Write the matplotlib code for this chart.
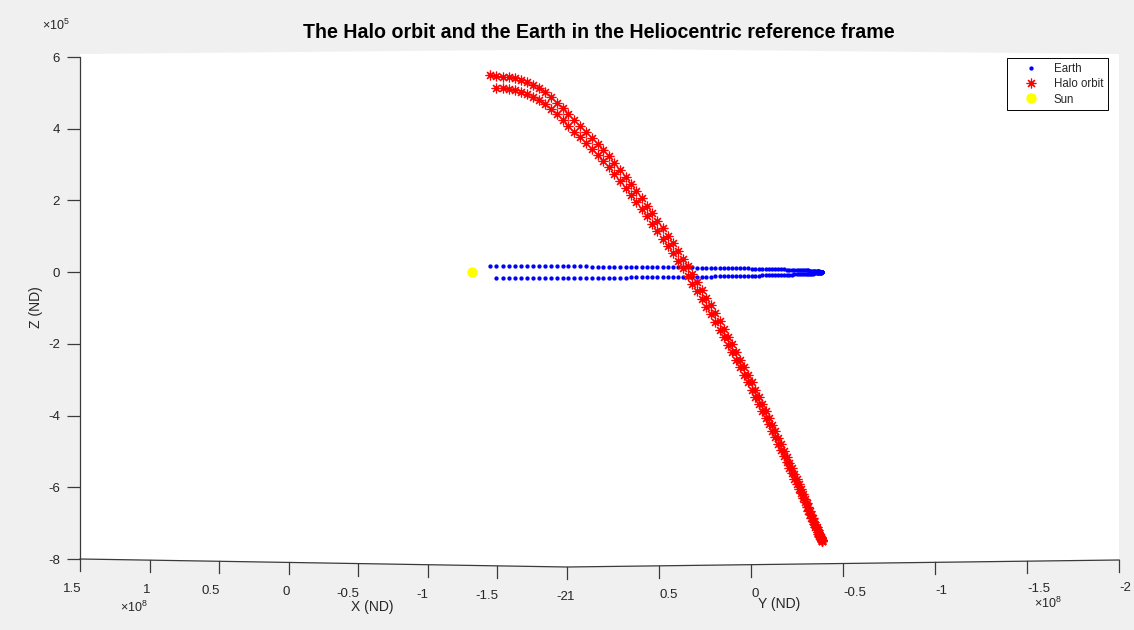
import numpy as np
import matplotlib
matplotlib.use("Agg")
import matplotlib.pyplot as plt
from matplotlib.lines import Line2D
from matplotlib.patches import Polygon

# ---------------- data ----------------
# Horizontal position in the view: projected distance from the Sun (x 1e8, ND).
# The halo orbit tracks the Earth so closely that both share these positions.
# far side of the half orbit (upper strand), then near side (lower strand)
far_h = [0.078, 0.105, 0.131, 0.157, 0.183, 0.209, 0.235, 0.260, 0.286, 0.312,
         0.338, 0.363, 0.388, 0.413, 0.439, 0.464, 0.488, 0.513, 0.538, 0.562,
         0.586, 0.610, 0.634, 0.658, 0.681, 0.704, 0.727, 0.750, 0.773, 0.795,
         0.817, 0.839, 0.860, 0.882, 0.903, 0.924, 0.944, 0.964, 0.984, 1.004,
         1.023, 1.042, 1.061, 1.079, 1.097, 1.115, 1.132, 1.149, 1.166, 1.182,
         1.198, 1.214, 1.229, 1.244, 1.258, 1.272, 1.286, 1.299, 1.312, 1.324,
         1.337, 1.348, 1.359, 1.370, 1.381, 1.391, 1.400, 1.410, 1.418, 1.427,
         1.434, 1.442, 1.449, 1.455, 1.462, 1.467, 1.472, 1.477, 1.482, 1.485,
         1.489, 1.492, 1.494, 1.496, 1.498, 1.499, 1.500, 1.500]
near_h = [1.500, 1.499, 1.498, 1.496, 1.494, 1.492, 1.489, 1.485, 1.482, 1.477,
          1.472, 1.467, 1.462, 1.455, 1.449, 1.442, 1.434, 1.427, 1.418, 1.410,
          1.400, 1.391, 1.381, 1.370, 1.359, 1.348, 1.337, 1.324, 1.312, 1.299,
          1.286, 1.272, 1.258, 1.244, 1.229, 1.214, 1.198, 1.182, 1.166, 1.149,
          1.132, 1.115, 1.097, 1.079, 1.061, 1.042, 1.023, 1.004, 0.984, 0.964,
          0.944, 0.924, 0.903, 0.882, 0.860, 0.839, 0.817, 0.795, 0.773, 0.750,
          0.727, 0.704, 0.681, 0.658, 0.634, 0.610, 0.586, 0.562, 0.538, 0.513,
          0.488, 0.464, 0.439, 0.413, 0.388, 0.363, 0.338, 0.312, 0.286, 0.260,
          0.235, 0.209, 0.183, 0.157, 0.131, 0.105]

# Z (x 1e5, ND) as seen in the view
earth_far_z = [0.167, 0.167, 0.166, 0.166, 0.166, 0.165, 0.165, 0.164, 0.164, 0.163,
               0.163, 0.162, 0.161, 0.161, 0.160, 0.159, 0.158, 0.157, 0.156, 0.155,
               0.154, 0.153, 0.151, 0.150, 0.149, 0.147, 0.146, 0.145, 0.143, 0.142,
               0.140, 0.138, 0.137, 0.135, 0.133, 0.132, 0.130, 0.128, 0.126, 0.124,
               0.122, 0.120, 0.118, 0.116, 0.114, 0.112, 0.110, 0.107, 0.105, 0.103,
               0.101, 0.098, 0.096, 0.093, 0.091, 0.088, 0.086, 0.084, 0.081, 0.078,
               0.076, 0.073, 0.071, 0.068, 0.065, 0.063, 0.060, 0.057, 0.054, 0.052,
               0.049, 0.046, 0.043, 0.040, 0.038, 0.035, 0.032, 0.029, 0.026, 0.023,
               0.020, 0.017, 0.015, 0.012, 0.009, 0.006, 0.003, 0.000]
earth_near_z = [-0.003, -0.006, -0.009, -0.012, -0.015, -0.017, -0.020, -0.023, -0.026, -0.029,
                -0.032, -0.035, -0.038, -0.040, -0.043, -0.046, -0.049, -0.052, -0.054, -0.057,
                -0.060, -0.063, -0.065, -0.068, -0.071, -0.073, -0.076, -0.078, -0.081, -0.084,
                -0.086, -0.088, -0.091, -0.093, -0.096, -0.098, -0.101, -0.103, -0.105, -0.107,
                -0.110, -0.112, -0.114, -0.116, -0.118, -0.120, -0.122, -0.124, -0.126, -0.128,
                -0.130, -0.132, -0.133, -0.135, -0.137, -0.138, -0.140, -0.142, -0.143, -0.145,
                -0.146, -0.147, -0.149, -0.150, -0.151, -0.153, -0.154, -0.155, -0.156, -0.157,
                -0.158, -0.159, -0.160, -0.161, -0.161, -0.162, -0.163, -0.163, -0.164, -0.164,
                -0.165, -0.165, -0.166, -0.166, -0.166, -0.167]
halo_far_z = [5.509, 5.481, 5.455, 5.433, 5.404, 5.367, 5.305, 5.226, 5.131, 5.019,
              4.882, 4.728, 4.568, 4.403, 4.242, 4.076, 3.914, 3.747, 3.575, 3.409,
              3.228, 3.043, 2.852, 2.659, 2.461, 2.259, 2.055, 1.848, 1.637, 1.424,
              1.218, 1.009, 0.799, 0.587, 0.373, 0.159, -0.058, -0.275, -0.493, -0.711,
              -0.930, -1.148, -1.366, -1.584, -1.800, -2.016, -2.230, -2.444, -2.655, -2.865,
              -3.072, -3.277, -3.479, -3.679, -3.875, -4.069, -4.258, -4.443, -4.626, -4.804,
              -4.978, -5.147, -5.311, -5.471, -5.627, -5.776, -5.920, -6.059, -6.193, -6.319,
              -6.441, -6.556, -6.666, -6.769, -6.865, -6.955, -7.038, -7.115, -7.185, -7.249,
              -7.305, -7.354, -7.395, -7.431, -7.459, -7.480, -7.493, -7.500]
halo_near_z = [-7.499, -7.492, -7.477, -7.455, -7.425, -7.388, -7.345, -7.295, -7.237, -7.173,
               -7.102, -7.025, -6.941, -6.849, -6.752, -6.648, -6.539, -6.423, -6.301, -6.173,
               -6.040, -5.902, -5.757, -5.607, -5.453, -5.293, -5.130, -4.960, -4.788, -4.611,
               -4.430, -4.245, -4.057, -3.865, -3.671, -3.473, -3.274, -3.071, -2.865, -2.658,
               -2.450, -2.240, -2.028, -1.816, -1.602, -1.388, -1.174, -0.959, -0.745, -0.531,
               -0.318, -0.105, 0.107, 0.317, 0.525, 0.733, 0.938, 1.140, 1.351, 1.558,
               1.763, 1.965, 2.163, 2.359, 2.550, 2.737, 2.920, 3.099, 3.263, 3.433,
               3.598, 3.758, 3.922, 4.081, 4.246, 4.404, 4.556, 4.693, 4.803, 4.898,
               4.975, 5.037, 5.072, 5.101, 5.123, 5.147]
sun_h = [0.0]
sun_z = [0.0]

z_ticks = [-8, -6, -4, -2, 0, 2, 4, 6]
x_tick_labels = ['1.5', '1', '0.5', '0', '-0.5', '-1', '-1.5', '-2']
y_tick_labels = ['1', '0.5', '0', '-0.5', '-1', '-1.5', '-2']

TITLE = 'The Halo orbit and the Earth in the Heliocentric reference frame'

# ---------------- styling ----------------
plt.rcParams['font.family'] = ['Liberation Sans', 'DejaVu Sans']
plt.rcParams['axes.unicode_minus'] = False
plt.rcParams['mathtext.fontset'] = 'custom'
plt.rcParams['mathtext.rm'] = 'Liberation Sans'
plt.rcParams['mathtext.it'] = 'Liberation Sans:italic'
plt.rcParams['mathtext.bf'] = 'Liberation Sans:bold'

W, H = 1134, 630
TXT = '#262626'
AXC = '#3a3a3a'
fig = plt.figure(figsize=(W / 100, H / 100), dpi=100, facecolor='#f0f0f0')


def fx(x):
    return x / W


def fy(y):
    return 1 - y / H


# white back planes of the 3-D box
box = Polygon([(fx(80), fy(54)), (fx(623), fy(49)), (fx(1119), fy(54)),
               (fx(1119), fy(560)), (fx(567), fy(567)), (fx(80), fy(559))],
              closed=True, transform=fig.transFigure, facecolor='white',
              edgecolor='none', zorder=-5)
fig.add_artist(box)

ax = fig.add_axes([fx(80), fy(559), (1119 - 80) / W, (559 - 57) / H])
ax.set_facecolor('none')
ax.set_xlim(-1.680, 2.773)
ax.set_ylim(-8, 6)
for s in ['top', 'right', 'bottom']:
    ax.spines[s].set_visible(False)
ax.spines['left'].set_color(AXC)
ax.spines['left'].set_linewidth(0.9)
ax.set_xticks([])
ax.set_yticks(z_ticks)
ax.set_yticklabels([str(t) for t in z_ticks])
ax.tick_params(axis='y', direction='out', length=9.5, width=0.9, color=AXC,
               labelcolor=TXT, labelsize=9.5, pad=5)
ax.set_ylabel('Z (ND)', fontsize=10, color=TXT, va='center')
ax.yaxis.set_label_coords((36 - 80) / 1039, (559 - 307) / 502)

earth_h = far_h + near_h
earth_z = earth_far_z + earth_near_z
halo_h = far_h + near_h
halo_z = halo_far_z + halo_near_z

l_earth, = ax.plot(earth_h, earth_z, ls='none', marker='o', ms=3.1, mew=0,
                   color='#0000ff', label='Earth', clip_on=False, zorder=3)
l_halo, = ax.plot(halo_h, halo_z, ls='none', marker=(8, 2, 0), ms=7, mew=0.85,
                  color='#ff0000', label='Halo orbit', clip_on=False, zorder=4)
l_sun, = ax.plot(sun_h, sun_z, ls='none', marker='o', ms=6.5, color='#ffff00',
                 mec='#ffff00', label='Sun', clip_on=False, zorder=5)

leg = ax.legend(handles=[l_earth, l_halo, l_sun], loc='upper right',
                bbox_to_anchor=(fx(1108), fy(58)), bbox_transform=fig.transFigure,
                borderaxespad=0, fontsize=8.3, handlelength=3.37,
                handletextpad=0.31, borderpad=0.4, labelspacing=0.3,
                fancybox=False, framealpha=1, edgecolor='#000000')
leg.get_frame().set_linewidth(0.7)
for t in leg.get_texts():
    t.set_color(TXT)

# bottom edges of the 3-D box: X axis (left) and Y axis (right)
fig.add_artist(Line2D([fx(80), fx(567), fx(1119)], [fy(559), fy(567), fy(560)],
                      transform=fig.transFigure, color=AXC, lw=0.9))
nx = len(x_tick_labels)
for i, lab in enumerate(x_tick_labels):
    x = 80 + i * (567 - 80) / (nx - 1)
    y = 559 + i * (567 - 559) / (nx - 1)
    fig.add_artist(Line2D([fx(x), fx(x)], [fy(y), fy(y + 12)],
                          transform=fig.transFigure, color=AXC, lw=0.9))
    fig.text(fx(x + 1), fy(589 + i * 8 / (nx - 1)), lab, ha='right', va='center',
             fontsize=9.5, color=TXT)
ny = len(y_tick_labels)
for j, lab in enumerate(y_tick_labels):
    x = 567 + j * (1119 - 567) / (ny - 1)
    y = 567 - j * (567 - 560) / (ny - 1)
    if j > 0:
        fig.add_artist(Line2D([fx(x), fx(x)], [fy(y), fy(y + 12)],
                              transform=fig.transFigure, color=AXC, lw=0.9))
    fig.text(fx(x), fy(597 - j * 9 / (ny - 1)), lab, ha='left', va='center',
             fontsize=9.5, color=TXT)

fig.text(fx(120), fy(607), r'$\times$10$^{8}$', ha='left', va='center', fontsize=9, color=TXT)
fig.text(fx(1034), fy(603), r'$\times$10$^{8}$', ha='left', va='center', fontsize=9, color=TXT)
fig.text(fx(372), fy(607), 'X (ND)', ha='center', va='center', fontsize=10, color=TXT)
fig.text(fx(779), fy(604), 'Y (ND)', ha='center', va='center', fontsize=10, color=TXT)
fig.text(fx(42), fy(25), r'$\times$10$^{5}$', ha='left', va='center', fontsize=9, color=TXT)

fig.suptitle(TITLE, x=fx(599), y=fy(33), va='center', fontsize=14.1,
             fontweight='bold', color='#000000')

fig.savefig('out.png', dpi=100, facecolor=fig.get_facecolor())
